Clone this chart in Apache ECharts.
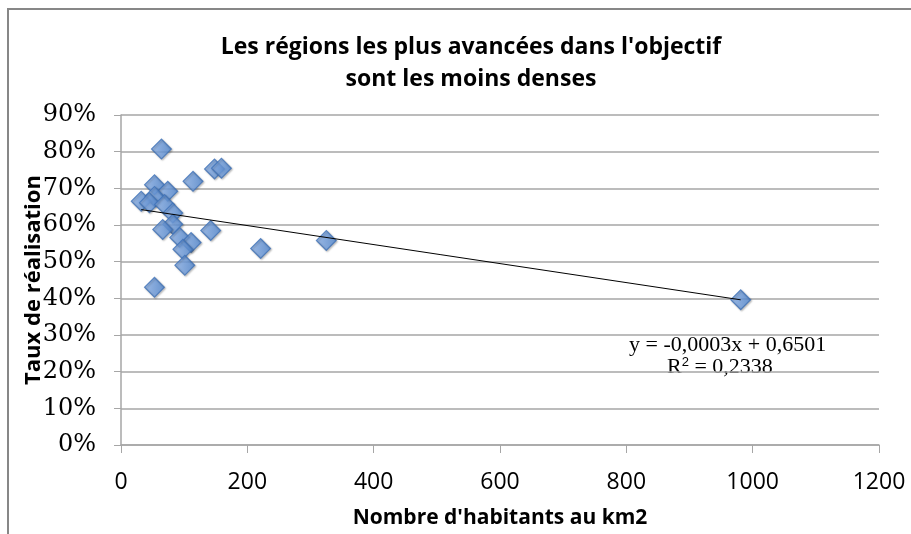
<!DOCTYPE html>
<html>
<head>
<meta charset="utf-8">
<script src="https://cdn.jsdelivr.net/npm/echarts@6/dist/echarts.min.js"></script>
<style>
  html, body { margin: 0; padding: 0; background: #fff; }
  #chart { width: 911px; height: 534px; }
</style>
</head>
<body>
<div id="chart"></div>
<script>
// density (hab/km2) and completion rate
const density = [64, 148, 159, 114, 53, 74, 53, 32, 45, 69, 82, 82, 66, 93, 111, 98, 142, 101, 53, 221, 325, 981];
const rate = [0.807, 0.753, 0.755, 0.719, 0.710, 0.692, 0.678, 0.665, 0.661, 0.656, 0.633, 0.602, 0.588, 0.566, 0.552, 0.534, 0.585, 0.490, 0.430, 0.536, 0.558, 0.396];
// trend line ends as drawn
const trendX = [32, 981];
const trendY = [0.642, 0.396];
const xTicks = [0, 200, 400, 600, 800, 1000, 1200];
const yTicks = [0, 0.1, 0.2, 0.3, 0.4, 0.5, 0.6, 0.7, 0.8, 0.9];

const chart = echarts.init(document.getElementById("chart"));

const markerFill = new echarts.graphic.LinearGradient(0, 0, 1, 1, [
	{ offset: 0, color: "#93b8ee" },
	{ offset: 1, color: "#4f86d0" },
]);

const sansFont = "Open Sans";

const option = {
	animation: false,
	title: {
		text: "Les régions les plus avancées dans l'objectif\nsont les moins denses",
		left: 466,
		top: 26,
		textAlign: "center",
		textStyle: {
			fontFamily: sansFont,
			fontWeight: "bold",
			fontSize: 23,
			lineHeight: 32,
			color: "#000",
		},
	},
	graphic: [
		{
			type: "rect",
			shape: { x: 8, y: 9, width: 1000, height: 1000 },
			style: { fill: "none", stroke: "#878787", lineWidth: 2 },
			silent: true,
		},
		{
			type: "text",
			left: 629,
			top: 334,
			style: {
				text: "y = -0,0003x + 0,6501",
				font: "22px 'Liberation Serif'",
				fill: "#000",
			},
		},
		{
			type: "text",
			left: 667,
			top: 356,
			style: {
				rich: { sup: { fontSize: 13, verticalAlign: "top", padding: [0, 0, 10, 0] } },
				text: "R{sup|2} = 0,2338",
				font: "22px 'Liberation Serif'",
				fill: "#000",
			},
		},
	],
	grid: {
		left: 121,
		right: 32,
		top: 115,
		bottom: 87,
		containLabel: false,
	},
	xAxis: {
		type: "value",
		min: xTicks[0],
		max: xTicks[xTicks.length - 1],
		interval: 200,
		name: "Nombre d'habitants au km2",
		nameLocation: "middle",
		nameGap: 63,
		nameMoveOverlap: false,
		nameTextStyle: {
			fontFamily: sansFont,
			fontWeight: "bold",
			fontSize: 21,
			color: "#000",
		},
		axisLine: { show: true, lineStyle: { color: "#a6a6a6", width: 1.5 } },
		axisTick: { show: true, inside: false, length: 8, lineStyle: { color: "#a6a6a6" } },
		axisLabel: {
			fontFamily: sansFont,
			fontSize: 23,
			color: "#000",
			margin: 26,
			formatter: (v) => String(v),
		},
		splitLine: { show: false },
	},
	yAxis: {
		type: "value",
		min: yTicks[0],
		max: yTicks[yTicks.length - 1],
		interval: 0.1,
		name: "Taux de réalisation",
		nameLocation: "middle",
		nameGap: 76,
		nameMoveOverlap: false,
		nameTextStyle: {
			fontFamily: sansFont,
			fontWeight: "bold",
			fontSize: 22,
			color: "#000",
		},
		axisLine: { show: true, lineStyle: { color: "#a6a6a6", width: 1.5 } },
		axisTick: { show: true, length: 7, lineStyle: { color: "#a6a6a6" } },
		axisLabel: {
			fontFamily: "DejaVu Serif",
			fontSize: 24,
			color: "#000",
			margin: 25,
			formatter: (v) => `${Math.round(v * 100)}%`,
		},
		splitLine: { show: true, lineStyle: { color: "#a6a6a6", width: 1.5 } },
	},
	series: [
		{
			name: "Tendance",
			type: "line",
			data: trendX.map((x, i) => [x, trendY[i]]),
			symbol: "none",
			lineStyle: { color: "#000", width: 1 },
			z: 3,
		},
		{
			name: "Régions",
			type: "scatter",
			data: density.map((x, i) => [x, rate[i]]),
			symbol: "rect",
			symbolRotate: 45,
			symbolSize: 14,
			itemStyle: {
				color: markerFill,
				borderColor: "#3f72b8",
				borderWidth: 1.2,
				shadowColor: "rgba(0,0,0,0.3)",
				shadowBlur: 2,
				shadowOffsetX: 1,
				shadowOffsetY: 1,
			},
			z: 2,
		},
	],
};

chart.setOption(option);
</script>
</body>
</html>
